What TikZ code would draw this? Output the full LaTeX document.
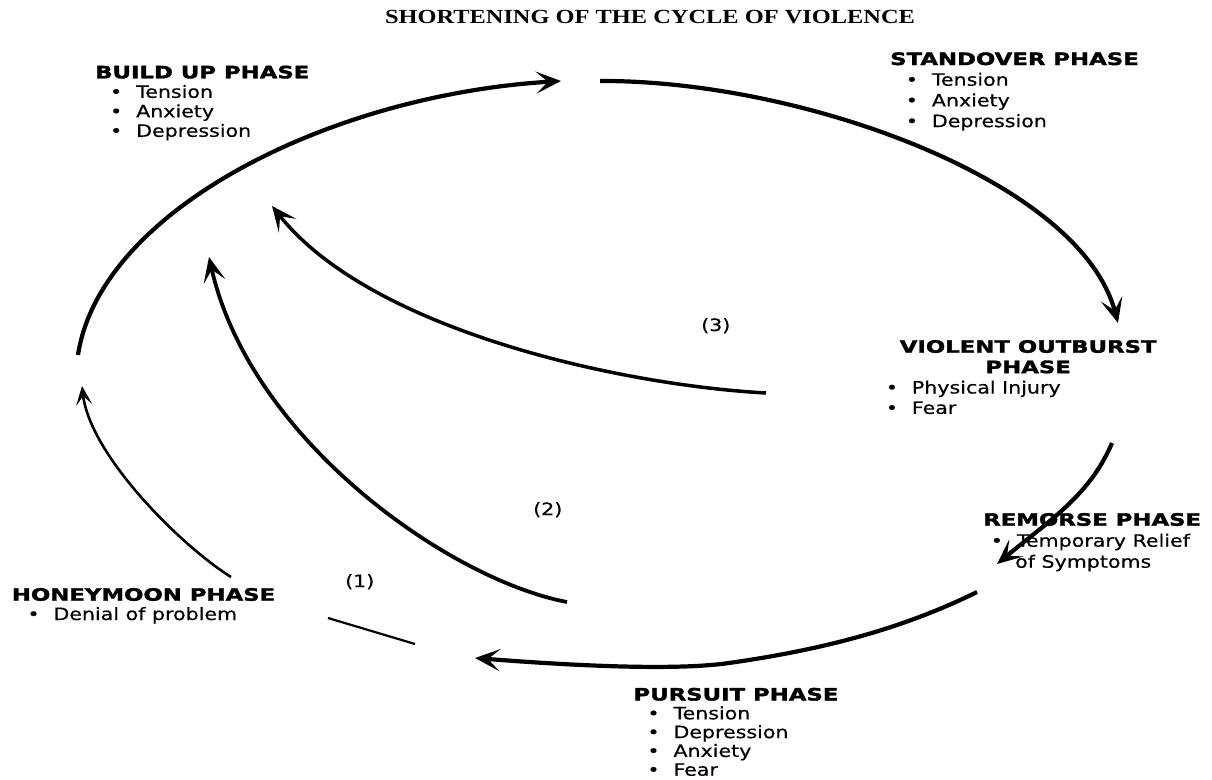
\documentclass[tikz,border=0pt]{standalone}
\usepackage{fontspec}
\usetikzlibrary{arrows.meta}
\newfontfamily\regf{DejaVu Sans}[FakeStretch=1.21,FakeBold=0.5]
\newfontfamily\boldf{DejaVu Sans}[FakeStretch=1.34,FakeBold=2]
\newfontfamily\titlef{Liberation Serif}[FakeStretch=1.22]
\newcommand\bli[2]{\hspace*{#1}\llap{\makebox[0pt][c]{•}\hspace*{20pt}}#2}
\newcommand\hdr[1]{{\boldf\bfseries #1}}
\newcommand\blk[1]{\fontsize{17}{#1}\selectfont\renewcommand\arraystretch{1}}
\tikzset{
  phase/.style={anchor=base west, inner sep=0pt, font=\regf},
  lbl/.style={anchor=base west, inner sep=0pt, font=\regf\fontsize{17}{20}\selectfont},
  ttl/.style={anchor=base, inner sep=0pt, font=\titlef\bfseries\fontsize{20}{24}\selectfont},
  bigtip/.style={-{Stealth[length=25pt,width=22pt,inset=12pt]}},
  cyc/.style={line width=4.2pt, bigtip},
  ret/.style={line width=3.8pt, bigtip},
}
\begin{document}
\begin{tikzpicture}[x=1pt,y=-1pt]
\useasboundingbox (0,0) rectangle (1212,779);

% title
\node[ttl] (title) at (650,23.3) {SHORTENING OF THE CYCLE OF VIOLENCE};

% phase blocks
\node[phase] (buildup) at (95,78.3) {\blk{19.5}\begin{tabular}[t]{@{}l@{}}
\hdr{BUILD UP PHASE}\\
\bli{41pt}{Tension}\\
\bli{41pt}{Anxiety}\\
\bli{41pt}{Depression}
\end{tabular}};

\node[phase] (standover) at (890,65) {\blk{20.7}\begin{tabular}[t]{@{}l@{}}
\hdr{STANDOVER PHASE}\\
\bli{41.7pt}{Tension}\\
\bli{41.7pt}{Anxiety}\\
\bli{41.7pt}{Depression}
\end{tabular}};

\node[phase] (violent) at (880,352.7) {\blk{20.4}\begin{tabular}[t]{@{}l@{}}
\hspace*{18pt}\makebox[260pt][c]{\hdr{VIOLENT OUTBURST}}\\
\hspace*{18pt}\makebox[260pt][c]{\hdr{PHASE}}\\
\bli{31.7pt}{Physical Injury}\\
\bli{31.7pt}{Fear}
\end{tabular}};

\node[phase] (remorse) at (983,525.7) {\blk{21}\begin{tabular}[t]{@{}l@{}}
\hdr{REMORSE PHASE}\\
\bli{33.7pt}{Temporary Relief}\\
\hspace*{32pt}of Symptoms
\end{tabular}};

\node[phase] (honeymoon) at (11.7,600.7) {\blk{19.3}\begin{tabular}[t]{@{}l@{}}
\hdr{HONEYMOON PHASE}\\
\bli{41.6pt}{Denial of problem}
\end{tabular}};

\node[phase] (pursuit) at (633.3,700.5) {\blk{18.8}\begin{tabular}[t]{@{}l@{}}
\hdr{PURSUIT PHASE}\\
\bli{40pt}{Tension}\\
\bli{40pt}{Depression}\\
\bli{40pt}{Anxiety}\\
\bli{40pt}{Fear}
\end{tabular}};

% number labels
\node[lbl] (n1) at (345,587) {(1)};
\node[lbl] (n2) at (533,515) {(2)};
\node[lbl] (n3) at (701,331) {(3)};

% connector end points
\coordinate (a1s) at (78,355);
\coordinate (a1e) at (561,81);
\coordinate (a2s) at (600,81);
\coordinate (a2e) at (1118,323);
\coordinate (a3s) at (1112,443);
\coordinate (a3e) at (997,564);
\coordinate (a4s) at (977,592);
\coordinate (a4m) at (729,663);
\coordinate (a4e) at (475,658);
\coordinate (r1s) at (231,577);
\coordinate (r1e) at (82,386);
\coordinate (r2s) at (567,602);
\coordinate (r2e) at (209,257);
\coordinate (r3s) at (766,393);
\coordinate (r3e) at (272,206);
\coordinate (hs) at (328,618);
\coordinate (he) at (415,644);

% main cycle
\draw[cyc] (a1s) .. controls (100,210) and (330,95) .. (a1e);
\draw[cyc] (a2s) .. controls (800,80) and (1080,180) .. (a2e);
\draw[cyc] (a3s) .. controls (1090,495) and (1050,520) .. (a3e);
\draw[cyc] (a4s) .. controls (900,630) and (820,650) .. (a4m)
               .. controls (680,670) and (590,667) .. (a4e);

% shortened returns
\draw[line width=2.6pt, -{Stealth[length=19pt,width=16pt,inset=9pt]}] (r1s) .. controls (180,545) and (90,455) .. (r1e);
\draw[ret] (r2s) .. controls (450,580) and (250,440) .. (r2e);
\draw[ret, line width=3.5pt] (r3s) .. controls (620,385) and (370,330) .. (r3e);
\draw[line width=2.2pt] (hs) -- (he);
\end{tikzpicture}
\end{document}
